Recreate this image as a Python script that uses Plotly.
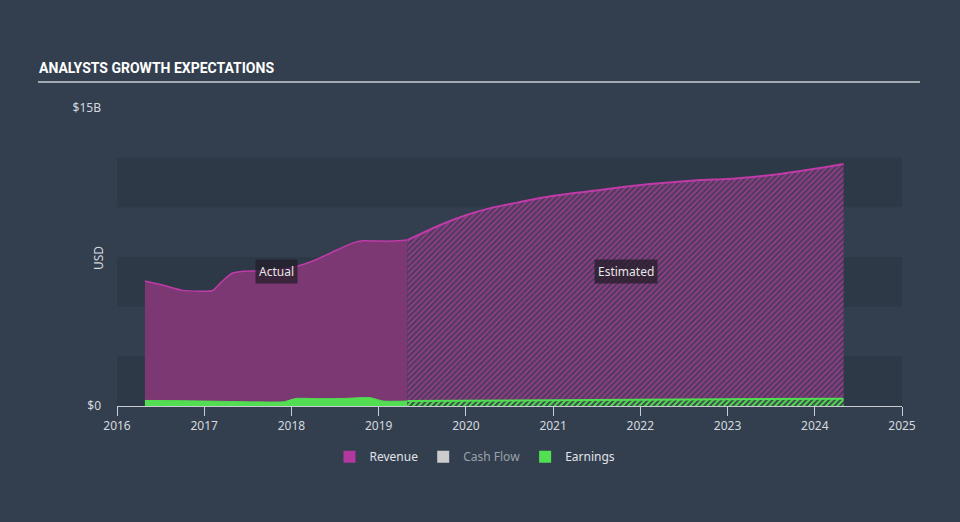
import plotly.graph_objects as go

# ---- data (USD billions, decimal years) ----
rev_act_x = [2016.32, 2016.55, 2016.75, 2016.95, 2017.09, 2017.2, 2017.32, 2017.45, 2017.6,
             2017.8, 2017.98, 2018.15, 2018.3, 2018.52, 2018.7, 2018.82, 2019.0, 2019.15, 2019.33]
rev_act_y = [6.29, 6.05, 5.82, 5.78, 5.80, 6.25, 6.68, 6.78, 6.80,
             6.85, 6.95, 7.15, 7.40, 7.85, 8.20, 8.32, 8.30, 8.30, 8.35]

rev_est_x = [2019.33, 2019.7, 2020.0, 2020.28, 2020.6, 2020.85, 2021.2, 2021.54, 2021.8,
             2022.11, 2022.4, 2022.69, 2023.0, 2023.26, 2023.55, 2023.83, 2024.1, 2024.33]
rev_est_y = [8.35, 9.10, 9.60, 9.96, 10.25, 10.47, 10.70, 10.87, 11.02,
             11.17, 11.28, 11.37, 11.43, 11.52, 11.65, 11.83, 12.00, 12.18]

earn_act_x = [2016.32, 2016.7, 2017.0, 2017.4, 2017.75, 2017.92, 2018.05, 2018.3, 2018.6,
              2018.9, 2019.05, 2019.33]
earn_act_y = [0.28, 0.27, 0.25, 0.22, 0.20, 0.22, 0.38, 0.37, 0.38,
              0.42, 0.25, 0.25]

earn_est_x = [2019.33, 2020.3, 2021.3, 2022.3, 2023.3, 2024.33]
earn_est_y = [0.25, 0.27, 0.29, 0.31, 0.34, 0.37]

year_ticks = list(range(2016, 2026))
y_tickvals = [0, 15]
y_ticktext = ["$0", "$15B"]
band_ranges = [(0, 2.5), (5, 7.5), (10, 12.5)]

BG = "#333f4f"
BAND = "#2e3947"
REV_LINE = "#c03aa8"
REV_FILL = "#7b3873"
EARN = "#52dd52"
TXT = "#d5d9de"
FONT = "Noto Sans, Open Sans, sans-serif"

fig = go.Figure()

fig.add_trace(go.Scatter(
    x=rev_act_x, y=rev_act_y, mode="lines", fill="tozeroy",
    line=dict(color=REV_LINE, width=1.5, shape="spline", smoothing=0.6),
    fillcolor=REV_FILL, showlegend=False, hoverinfo="skip"))
fig.add_trace(go.Scatter(
    x=rev_est_x, y=rev_est_y, mode="lines", fill="tozeroy",
    line=dict(color=REV_LINE, width=2, shape="spline", smoothing=0.6),
    fillpattern=dict(shape="/", fgcolor="#8f3d85", bgcolor="#4a3a5a",
                     size=4, solidity=0.5, fillmode="replace"),
    showlegend=False, hoverinfo="skip"))
fig.add_trace(go.Scatter(
    x=earn_act_x, y=earn_act_y, mode="lines", fill="tozeroy",
    line=dict(color=EARN, width=1, shape="spline", smoothing=0.6),
    fillcolor=EARN, showlegend=False, hoverinfo="skip"))
fig.add_trace(go.Scatter(
    x=earn_est_x, y=earn_est_y, mode="lines", fill="tozeroy",
    line=dict(color=EARN, width=2),
    fillpattern=dict(shape="/", fgcolor="#52dd52", bgcolor="#3a4a4a",
                     size=4, solidity=0.5, fillmode="replace"),
    showlegend=False, hoverinfo="skip"))

# legend entries
for name, col in [("Revenue", "#b0389f"),
                  ("<span style='color:#9aa1aa'>Cash Flow</span>", "#cccccc"),
                  ("Earnings", "#52e052")]:
    fig.add_trace(go.Scatter(
        x=[None], y=[None], mode="markers", name=name,
        marker=dict(symbol="square", size=16, color=col)))

shapes = []
for lo, hi in band_ranges:
    shapes.append(dict(type="rect", xref="paper", yref="y", x0=0, x1=1, y0=lo, y1=hi,
                       fillcolor=BAND, line=dict(width=0), layer="below"))
# title underline
shapes.append(dict(type="line", xref="paper", yref="paper",
                   x0=(38 - 117) / 785, x1=(920 - 117) / 785,
                   y0=(406 - 82) / 298, y1=(406 - 82) / 298,
                   line=dict(color="#a4aab2", width=2)))

annotations = [
    dict(text="ANALYSTS GROWTH EXPECTATIONS", xref="paper", yref="paper",
         x=(37 - 117) / 785, y=(406 - 68) / 298, xanchor="left", yanchor="middle",
         showarrow=False,
         font=dict(family="Roboto, sans-serif", size=14, color="#ffffff", weight="bold")),
    dict(text="USD", xref="paper", yref="paper", x=(98 - 117) / 785, y=(406 - 258) / 298,
         xanchor="center", yanchor="middle", textangle=-90, showarrow=False,
         font=dict(family=FONT, size=12, color=TXT)),
    dict(text="Actual", x=2017.83, y=6.75, showarrow=False,
         bgcolor="rgba(35,30,40,0.75)", borderpad=3,
         font=dict(family=FONT, size=12, color="#e6e6e6")),
    dict(text="Estimated", x=2021.83, y=6.75, showarrow=False,
         bgcolor="rgba(35,30,40,0.75)", borderpad=3,
         font=dict(family=FONT, size=12, color="#e6e6e6")),
]

fig.update_layout(
    width=960, height=522,
    paper_bgcolor=BG, plot_bgcolor=BG,
    margin=dict(l=117, r=58, t=108, b=116),
    font=dict(family=FONT, color=TXT, size=11),
    shapes=shapes, annotations=annotations,
    legend=dict(orientation="h", x=(475 - 117) / 785, xanchor="center", y=-0.17,
                yanchor="middle", font=dict(size=12, color="#e0e3e7"),
                itemsizing="constant", bgcolor="rgba(0,0,0,0)"),
    xaxis=dict(range=[2016, 2025], tickvals=year_ticks, ticktext=[str(v) for v in year_ticks],
               showgrid=False, zeroline=False, showline=True, linecolor="#c8ccd2",
               linewidth=1, ticks="outside", ticklen=9, tickcolor="#c8ccd2",
               tickfont=dict(size=12, color=TXT), fixedrange=True),
    yaxis=dict(range=[0, 15], tickvals=y_tickvals, ticktext=y_ticktext,
               showgrid=False, zeroline=False, showline=False, ticks="",
               ticklabelstandoff=15,
               tickfont=dict(size=12, color=TXT), fixedrange=True),
)

fig.write_html("out.html")
